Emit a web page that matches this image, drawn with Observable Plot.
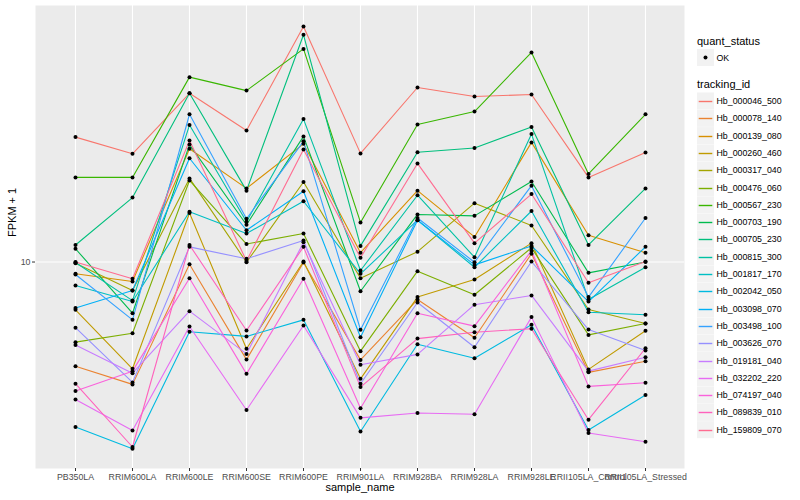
<!DOCTYPE html>
<html>
<head>
<meta charset="utf-8">
<script src="https://cdn.jsdelivr.net/npm/d3@7"></script>
<script src="https://cdn.jsdelivr.net/npm/@observablehq/plot@0.6"></script>
<style>
  html, body { margin: 0; padding: 0; background: white; }
  #wrap { position: relative; width: 800px; height: 500px; overflow: hidden; font-family: "Liberation Sans", Arial, sans-serif; }
  #chart { position: absolute; left: 0; top: 0; }
  #legend { position: absolute; left: 690px; top: 0; }
</style>
</head>
<body>
<div id="wrap"><div id="chart"></div><div id="legend"></div></div>
<script>
const samples = ["PB350LA","RRIM600LA","RRIM600LE","RRIM600SE","RRIM600PE","RRIM901LA","RRIM928BA","RRIM928LA","RRIM928LE","RRII105LA_Control","RRII105LA_Stressed"];

const trackingIds = ["Hb_000046_500","Hb_000078_140","Hb_000139_080","Hb_000260_460","Hb_000317_040","Hb_000476_060","Hb_000567_230","Hb_000703_190","Hb_000705_230","Hb_000815_300","Hb_001817_170","Hb_002042_050","Hb_003098_070","Hb_003498_100","Hb_003626_070","Hb_019181_040","Hb_032202_220","Hb_074197_040","Hb_089839_010","Hb_159809_070"];

const colors = ["#F8766D","#EA8331","#D89000","#C09B00","#A3A500","#7CAE00","#39B600","#00BB4E","#00BF7D","#00C1A3","#00BFC4","#00BAE0","#00B0F6","#35A2FF","#9590FF","#C77CFF","#E76BF3","#FA62DB","#FF62BC","#FF6C91"];

// FPKM + 1, one row per tracking_id (same order), one value per sample
const fpkm = [
  [31.6, 27.1, 47.3, 33.6, 87.5, 27.2, 49.9, 45.9, 46.8, 21.8, 27.4],   // 000046_500
  [3.83, 3.24, 9.80, 4.07, 9.95, 4.06, 7.08, 4.98, 10.8, 3.62, 4.01],   // 000078_140
  [8.97, 8.36, 28.4, 19.7, 29.7, 10.9, 19.3, 12.6, 30.1, 12.8, 10.9],   // 000139_080
  [6.44, 3.74, 15.7, 4.50, 10.05, 3.41, 7.24, 8.51, 11.9, 3.72, 5.31],  // 000260_460
  [9.89, 7.69, 21.6, 9.98, 20.9, 8.61, 11.0, 17.2, 14.0, 6.46, 5.68],   // 000317_040
  [4.78, 5.19, 21.2, 11.8, 13.0, 4.40, 9.19, 7.40, 11.4, 5.11, 5.68],   // 000476_060
  [21.8, 21.8, 54.9, 48.5, 71.2, 14.4, 35.5, 40.0, 68.9, 22.5, 39.0],   // 000567_230
  [11.3, 6.24, 29.5, 14.1, 31.8, 7.64, 15.5, 15.3, 21.0, 9.05, 10.0],   // 000703_190
  [11.7, 18.1, 47.3, 19.3, 81.1, 11.6, 27.5, 28.6, 34.7, 11.7, 19.7],   // 000705_230
  [9.95, 7.01, 35.3, 14.5, 37.3, 9.25, 18.5, 10.45, 32.5, 7.08, 9.53],  // 000815_300
  [8.05, 6.95, 15.9, 13.0, 17.5, 8.97, 14.7, 9.53, 16.0, 6.30, 6.15],   // 001817_170
  [2.19, 1.79, 5.26, 5.04, 5.87, 2.10, 4.69, 4.12, 5.61, 2.13, 2.94],   // 002042_050
  [6.55, 7.69, 26.0, 13.4, 19.2, 5.00, 14.7, 9.74, 11.6, 6.95, 11.5],   // 003098_070
  [8.91, 5.87, 39.0, 14.9, 30.4, 5.36, 15.0, 9.98, 20.2, 7.24, 15.0],   // 003498_100
  [5.46, 3.30, 11.5, 10.3, 12.2, 3.26, 6.89, 4.56, 10.05, 5.37, 4.43],  // 003626_070
  [4.66, 3.59, 6.36, 4.29, 12.0, 3.88, 4.27, 6.75, 7.35, 3.66, 4.16],   // 019181_040
  [2.82, 2.12, 5.52, 2.56, 5.57, 2.38, 2.49, 2.46, 6.02, 2.07, 1.91],   // 032202_220
  [3.05, 3.66, 8.61, 3.57, 8.57, 2.60, 6.24, 5.54, 11.1, 3.18, 3.29],   // 074197_040
  [3.26, 1.82, 11.7, 5.32, 11.5, 3.16, 4.94, 5.24, 5.41, 2.34, 4.52],   // 089839_010
  [10.0, 8.57, 30.6, 10.1, 28.2, 10.4, 24.8, 11.9, 18.7, 8.26, 10.05]   // 159809_070
];

const yTicks = [10];

const rows = [];
trackingIds.forEach((id, i) => samples.forEach((s, j) => rows.push({tracking_id: id, sample_name: s, value: fpkm[i][j], quant_status: "OK"})));

const chart = Plot.plot({
  width: 690, height: 500,
  marginLeft: 35, marginRight: 6, marginTop: 5, marginBottom: 32,
  style: {fontFamily: "'Liberation Sans', Arial, sans-serif", fontSize: "8.8px", background: "white", overflow: "visible"},
  x: {type: "point", domain: samples, padding: 0.6, label: null},
  y: {type: "log", domain: [1.493, 106.2], label: null},
  color: {domain: trackingIds, range: colors},
  marks: [
    Plot.frame({fill: "#EBEBEB"}),
    Plot.ruleX(samples, {x: d => d, stroke: "white", strokeWidth: 1.1}),
    Plot.ruleY(yTicks, {y: d => d, stroke: "white", strokeWidth: 1.1}),
    Plot.line(rows, {x: "sample_name", y: "value", z: "tracking_id", stroke: "tracking_id", strokeWidth: 1.1}),
    Plot.dot(rows, {x: "sample_name", y: "value", fill: "black", r: 2}),
    Plot.axisX({tickSize: 3, tickPadding: 2, stroke: "#333333", fill: "#4D4D4D", label: null, fontSize: 8.8}),
    Plot.axisY({ticks: yTicks, tickSize: 3, tickPadding: 2, stroke: "#333333", fill: "#4D4D4D", label: null, tickFormat: d => String(d), fontSize: 8.8}),
    Plot.text(["sample_name"], {frameAnchor: "bottom", text: d => d, dy: 19, fontSize: 11, fill: "black", lineAnchor: "middle"}),
    Plot.text(["FPKM + 1"], {frameAnchor: "left", text: d => d, dx: -23, rotate: -90, fontSize: 11, fill: "black", lineAnchor: "middle"})
  ]
});
document.getElementById("chart").appendChild(chart);

// Legend
const lg = d3.select("#legend").append("svg").attr("width", 110).attr("height", 500)
  .style("font-family", "'Liberation Sans', Arial, sans-serif");
const ox = 7;
lg.append("text").attr("x", ox).attr("y", 40.7).attr("dy", "0.35em").attr("font-size", 11).text("quant_status");
lg.append("rect").attr("x", ox).attr("y", 49).attr("width", 17).attr("height", 17).attr("fill", "#F2F2F2");
lg.append("circle").attr("cx", ox + 8.5).attr("cy", 57.5).attr("r", 2).attr("fill", "black");
lg.append("text").attr("x", ox + 19.5).attr("y", 57.5).attr("dy", "0.35em").attr("font-size", 8.8).text("OK");
lg.append("text").attr("x", ox).attr("y", 84.3).attr("dy", "0.35em").attr("font-size", 11).text("tracking_id");
trackingIds.forEach((id, i) => {
  const cy = 101 + i * 17.3;
  const ly = Math.round(cy) + 0.5;
  lg.append("rect").attr("x", ox).attr("y", cy - 8.5).attr("width", 17).attr("height", 17).attr("fill", "#F2F2F2");
  lg.append("line").attr("x1", ox + 1.7).attr("x2", ox + 15.3).attr("y1", ly).attr("y2", ly)
    .attr("stroke", colors[i]).attr("stroke-width", 1.4);
  lg.append("text").attr("x", ox + 19.5).attr("y", cy).attr("dy", "0.35em").attr("font-size", 8.8).text(id);
});
</script>
</body>
</html>
